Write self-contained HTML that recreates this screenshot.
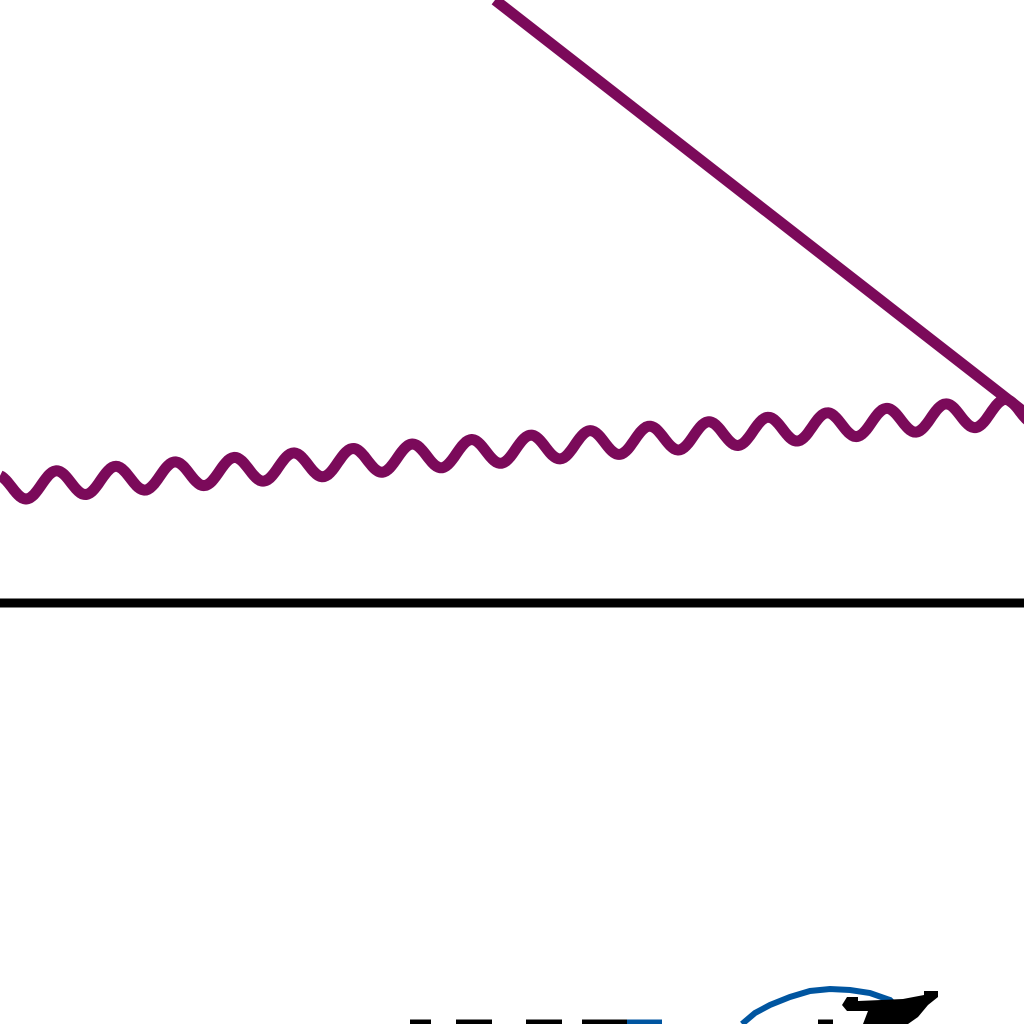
<!DOCTYPE html>
<html><head><meta charset="utf-8"><style>html,body{margin:0;padding:0;background:#fff;width:1024px;height:1024px;overflow:hidden}</style></head>
<body>
<svg id="chart" width="1024" height="1024" viewBox="0 0 1024 1024" xmlns="http://www.w3.org/2000/svg">
<rect width="1024" height="1024" fill="#fff"/>
</svg>
<script>
const lineX = [0.495, 1.024];
const lineY = [0, 4.12];
const waveStart = [0, 4.88];
const waveEnd = [1.024, 4.11];
const waveAmp = [0.13];
const wavePeriod = [0.0593];
const baselineY = [6.03];
const dashX = [0.410, 0.431, 0.456, 0.492, 0.526, 0.562, 0.582, 0.627, 0.818, 0.833];
const blueDashX = [0.627, 0.662];
const arcX = [0.742, 0.755, 0.770, 0.790, 0.810, 0.830, 0.850, 0.870, 0.890, 0.900, 0.907];
const arcY = [10.24, 10.13, 10.05, 9.97, 9.91, 9.89, 9.90, 9.93, 10.00, 10.10, 10.24];

const sx = v => v * 1000;
const sy = v => v * 100;
const svg = document.getElementById('chart');
const NS = 'http://www.w3.org/2000/svg';
function mk(tag, attrs){const e=document.createElementNS(NS,tag);for(const k in attrs)e.setAttribute(k,attrs[k]);svg.appendChild(e);return e;}

const base = mk('line',{x1:0,x2:1024,y1:sy(baselineY[0]),y2:sy(baselineY[0]),stroke:'#000','stroke-width':9});



const straight = mk('line',{x1:sx(lineX[0]),y1:sy(lineY[0]),x2:sx(lineX[1]),y2:sy(lineY[1]),stroke:'#7b0a5a','stroke-width':11});



let d='';
for(let px=0;px<=1030;px+=2){
  const t=px/1000;
  const frac=(t-waveStart[0])/(waveEnd[0]-waveStart[0]);
  const c=waveStart[1]+(waveEnd[1]-waveStart[1])*frac;
  const y=c+waveAmp[0]*Math.sin(2*Math.PI*(t-0.0265)/wavePeriod[0]+Math.PI/2);
  d+=(px?'L':'M')+px+' '+sy(y).toFixed(1);
}
const wave = mk('path',{d:d,fill:'none',stroke:'#7b0a5a','stroke-width':11,'stroke-linejoin':'round'});



for(let i=0;i<dashX.length;i+=2){
  const seg = mk('line',{x1:sx(dashX[i]),x2:sx(dashX[i+1]),y1:1022,y2:1022,stroke:'#000','stroke-width':5});
  
  
}
const blueSeg = mk('line',{x1:sx(blueDashX[0]),x2:sx(blueDashX[1]),y1:1022,y2:1022,stroke:'#0055a0','stroke-width':5});



let ad='';
arcX.forEach((x,i)=>{ad+=(i?'L':'M')+sx(x).toFixed(1)+' '+sy(arcY[i]).toFixed(1);});
const arc = mk('path',{d:ad,fill:'none',stroke:'#0055a0','stroke-width':6});



const arrow = mk('polygon',{points:'924,991 938,991 938,997 928,1005 923,1011 918,1017 908,1024 863,1024 868,1011 847,1011 842,1005 847,997 858,997 858,1001 903,999 924,995',fill:'#000'});


</script>
</body></html>
